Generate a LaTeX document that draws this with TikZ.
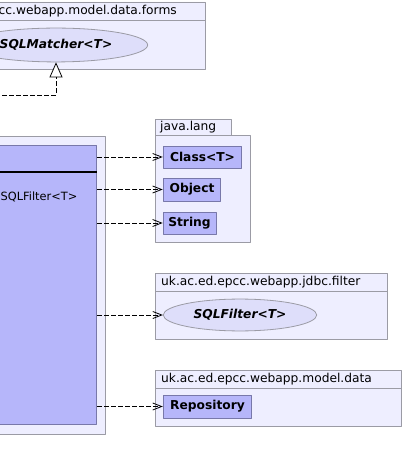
\documentclass[tikz,border=0pt]{standalone}
\usepackage{fontspec}
\setmainfont{DejaVu Sans}
\usetikzlibrary{arrows.meta,shapes.geometric}
\definecolor{pkgfill}{RGB}{238,238,255}
\definecolor{pkgline}{RGB}{155,155,165}
\definecolor{clsfill}{RGB}{182,182,250}
\definecolor{clsline}{RGB}{120,120,170}
\definecolor{ifcfill}{RGB}{222,222,250}
\begin{document}
\begin{tikzpicture}[x=1bp,y=-1bp,font=\fontsize{12.3}{14}\selectfont, line join=round,
		pkg/.style={draw=pkgline,fill=pkgfill,line width=0.8bp},
		cls/.style={draw=clsline,fill=clsfill,line width=0.8bp,inner sep=0,font=\fontsize{12.3}{14}\selectfont\bfseries},
		ifc/.style={ellipse,draw=pkgline,fill=ifcfill,line width=0.8bp,inner sep=0,font=\fontsize{12.3}{14}\selectfont\bfseries\itshape},
		lbl/.style={inner sep=0,anchor=west},
		dep/.style={dash pattern=on 4.5bp off 2.5bp,line width=0.8bp,-{Straight Barb[length=9bp,width=7bp,line width=0.8bp]}}]
				\useasboundingbox (0,0) rectangle (404,472);
				% packages
				\draw[pkg](-60,2)rectangle(205,69) (-60,20)--(205,20);
				\draw[pkg](155,119)rectangle(231,135);
				\draw[pkg](155,135)rectangle(250,242);
				\draw[pkg](155,273)rectangle(387,339) (155,291)--(387,291);
				\draw[pkg](155,370)rectangle(401,426) (155,388)--(401,388);
				\draw[pkg](-60,136)rectangle(105,434);
				\path
				(177,11)node(forms)[lbl,anchor=east]{cc.webapp.model.data.forms}
				(160,127)node(lang)[lbl]{java.lang}
				(161,282)node(jdbc)[lbl]{uk.ac.ed.epcc.webapp.jdbc.filter}
				(161,379)node(data)[lbl]{uk.ac.ed.epcc.webapp.model.data}
				;
				% classes
				\path
				(56,45)node(matcher)[ifc,minimum width=184,minimum height=34]{SQLMatcher<T>}
				(97,145)node(main)[cls,anchor=north east,minimum width=200,minimum height=280]{}
				(202.5,157)node(cls)[cls,minimum width=79,minimum height=22]{Class<T>}
				(192,189.5)node(obj)[cls,minimum width=58,minimum height=23]{Object}
				(189.5,223)node(str)[cls,minimum width=53,minimum height=22]{String}
				(240,315)node(filter)[ifc,minimum width=154,minimum height=32]{SQLFilter<T>}
				(207.5,406.5)node(repo)[cls,minimum width=89,minimum height=23]{Repository}
				;
				\draw[line width=2bp](main.west|-0,172)--(main.east|-0,172);
				\node(ops)[lbl,font=\fontsize{11.4}{13}\selectfont] at (0.5,197){SQLFilter<T>};
				% connectors
				\coordinate(lft) at (-5,95);
				\draw[dash pattern=on 4.5bp off 2.5bp,line width=0.8bp,-{Triangle[open,fill=white,length=15bp,width=13bp,line width=0.8bp]}](lft)--(matcher.south|-lft)--(matcher.south);
				\draw[dep](main.east|-cls.west)--(cls.west);
				\draw[dep](main.east|-obj.west)--(obj.west);
				\draw[dep](main.east|-str.west)--(str.west);
				\draw[dep](main.east|-filter.west)--(filter.west);
				\draw[dep](main.east|-repo.west)--(repo.west);
		\end{tikzpicture}
\end{document}
